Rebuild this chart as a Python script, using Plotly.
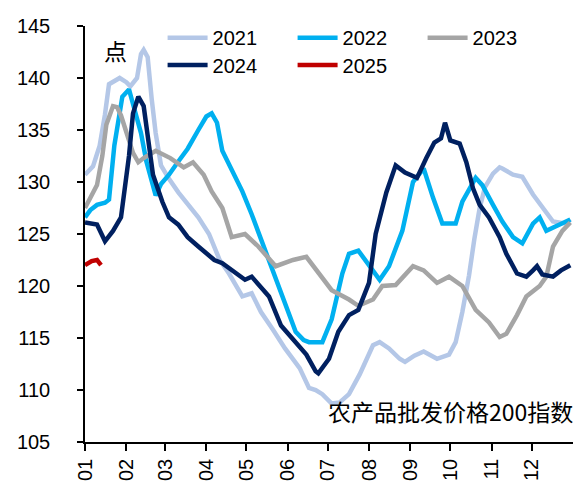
import plotly.graph_objects as go

# ---- data (dates mapped to a common year) ----
d2021 = ["01-01","01-07","01-12","01-16","01-19","01-24","01-27","02-01","02-04","02-09","02-12","02-14","02-17","02-20","02-23","02-27",
         "03-04","03-11","03-19","03-26","04-03","04-11","04-18","04-28","05-05","05-12","05-21","05-30","06-10","06-17","06-22","06-27",
         "07-04","07-10","07-17","07-25","08-04","08-09","08-16","08-24","08-28","09-04","09-11","09-21","09-30","10-05","10-10","10-15",
         "10-19","10-23","10-27","11-02","11-07","11-09","11-17","11-24","12-02","12-09","12-17","12-27","12-30"]
v2021 = [130.7,131.5,133.5,136.5,139.4,139.8,140.0,139.6,139.2,140.0,142.3,142.7,142.0,138.0,134.7,131.6,
         130.3,129.0,127.8,126.6,125.0,122.5,121.2,119.0,119.3,117.5,115.8,114.0,112.1,110.2,110.0,109.6,
         108.7,108.8,109.6,111.5,114.3,114.6,114.0,113.0,112.7,113.3,113.7,113.0,113.4,114.6,117.5,121.0,
         124.5,127.5,129.5,130.8,131.4,131.3,130.7,130.5,128.8,127.5,126.2,126.0,126.4]

d2022 = ["01-01","01-05","01-10","01-16","01-19","01-23","01-29","02-03","02-06","02-12","02-16","02-19","02-23","02-27",
         "03-04","03-10","03-18","03-26","04-01","04-05","04-09","04-13","04-20","04-28","05-05","05-12","05-18","05-24","05-30",
         "06-07","06-13","06-17","06-27","07-04","07-12","07-17","07-24","08-04","08-09","08-16","08-26","09-03","09-11","09-18",
         "09-25","10-05","10-10","10-20","10-25","11-02","11-09","11-17","11-24","12-02","12-07","12-12","12-19","12-30"]
v2022 = [126.6,127.3,127.8,128.0,128.3,133.5,138.2,138.9,137.5,134.7,132.0,130.5,128.7,129.8,
         130.7,131.8,133.2,135.0,136.3,136.6,135.7,133.0,131.2,129.1,126.9,124.5,122.5,120.5,118.4,
         115.6,114.8,114.6,114.6,116.8,121.2,123.1,123.4,121.5,120.6,121.9,125.3,130.0,131.3,128.5,
         126.0,126.0,128.1,130.4,129.7,127.8,126.2,124.7,124.1,126.0,126.6,125.3,125.7,126.4]

d2023 = ["01-01","01-10","01-14","01-17","01-22","01-25","01-28","02-02","02-06","02-10","02-14","02-23","03-05","03-15","03-22",
         "03-30","04-05","04-13","04-20","04-30","05-10","05-23","06-05","06-15","06-24","07-04","07-17","07-24","08-04","08-11",
         "08-21","09-03","09-11","09-21","09-30","10-10","10-20","10-30","11-07","11-12","11-20","11-27","12-07","12-12","12-17",
         "12-24","12-30"]
v2023 = [127.5,129.7,132.5,135.5,137.3,137.2,136.4,134.5,132.8,131.9,132.3,133.0,132.3,131.4,131.9,
         130.7,129.1,127.5,124.7,125.0,123.8,121.9,122.5,122.8,121.2,119.6,118.7,118.1,118.7,120.0,
         120.1,121.9,121.5,120.3,120.9,120.0,117.7,116.5,115.1,115.4,117.2,119.0,120.0,120.9,123.8,
         125.3,126.1]

d2024 = ["01-01","01-10","01-16","01-22","01-28","02-03","02-06","02-10","02-14","02-17","02-21","02-28","03-04","03-11","03-18",
         "03-26","04-02","04-07","04-13","04-23","04-30","05-05","05-18","05-27","06-07","06-15","06-22","06-24","07-02","07-09",
         "07-17","07-24","08-01","08-06","08-14","08-21","08-28","09-06","09-13","09-19","09-24","09-27","10-01","10-08","10-13",
         "10-18","10-23","10-30","11-07","11-12","11-20","11-27","12-02","12-05","12-09","12-17","12-23","12-30"]
v2024 = [126.1,125.9,124.3,125.3,126.6,132.5,136.6,138.2,137.3,134.2,130.7,128.1,126.6,125.9,124.7,
         123.8,123.1,122.5,122.2,121.2,120.6,120.9,119.0,116.2,114.6,113.4,111.8,111.6,113.0,115.6,
         117.2,117.7,120.3,125.0,129.0,131.6,130.9,130.4,132.3,133.8,134.2,135.7,134.0,133.7,131.9,
         129.4,127.8,126.6,124.7,123.1,121.2,120.9,121.5,121.9,121.1,120.9,121.5,122.0]

d2025 = ["01-01","01-06","01-10","01-13"]
v2025 = [122.0,122.4,122.5,122.0]

series = [("2021", d2021, v2021, "#b4c7e7", "legend"),
          ("2022", d2022, v2022, "#00b0f0", "legend"),
          ("2023", d2023, v2023, "#a5a5a5", "legend"),
          ("2024", d2024, v2024, "#002060", "legend2"),
          ("2025", d2025, v2025, "#c00000", "legend2")]

month_labels = ["01","02","03","04","05","06","07","08","09","10","11","12"]
BASE_YEAR = "2000"

fig = go.Figure()
for name, dates, vals, color, lg in series:
    fig.add_trace(go.Scatter(
        x=[f"{BASE_YEAR}-{d}" for d in dates], y=vals, name=name, mode="lines",
        legend=lg, line=dict(color=color, width=4.5)))

font_family = "Liberation Sans, Arial, sans-serif"
tickvals = [f"{BASE_YEAR}-{m}-01" for m in month_labels]

legend_common = dict(orientation="h", xanchor="left", yanchor="middle",
                     entrywidth=75, entrywidthmode="pixels",
                     font=dict(size=20), bgcolor="rgba(0,0,0,0)",
                     tracegroupgap=0, itemwidth=40)

# page body has an 8px default margin, so the figure is 8px smaller
fig.update_layout(
    width=575, height=478,
    margin=dict(l=77, r=10, t=10, b=44),
    paper_bgcolor="white", plot_bgcolor="white",
    font=dict(family=font_family, size=20, color="black"),
    showlegend=True,
    legend=dict(x=0.159, y=0.972, **legend_common),
    legend2=dict(x=0.159, y=0.906, **legend_common),
    xaxis=dict(type="date", range=[f"{BASE_YEAR}-01-01", "2001-01-01"],
               tickmode="array", tickvals=tickvals, ticktext=month_labels,
               tickangle=-90, ticks="outside", ticklen=7, tickwidth=1.5, tickcolor="black",
               showline=True, linecolor="black", linewidth=1.5, showgrid=False, zeroline=False,
               tickfont=dict(size=20), automargin=False, ticklabelstandoff=0),
    yaxis=dict(range=[105, 145], tickvals=[105,110,115,120,125,130,135,140,145],
               ticks="outside", ticklen=6, tickwidth=1.5, tickcolor="black",
               showline=True, linecolor="black", linewidth=1.5, showgrid=False, zeroline=False,
               tickfont=dict(size=20), automargin=False, ticklabelstandoff=23),
    annotations=[
        dict(text="点", xref="paper", yref="paper", x=0.035, y=0.943, xanchor="left", yanchor="middle",
             showarrow=False, font=dict(size=23, family="Noto Sans CJK SC")),
        dict(text="农产品批发价格200指数", xref="paper", yref="paper", x=1.005, y=0.075,
             xanchor="right", yanchor="middle", showarrow=False,
             font=dict(size=23, family="Noto Sans CJK SC")),
    ],
)

fig.write_html("out.html")
